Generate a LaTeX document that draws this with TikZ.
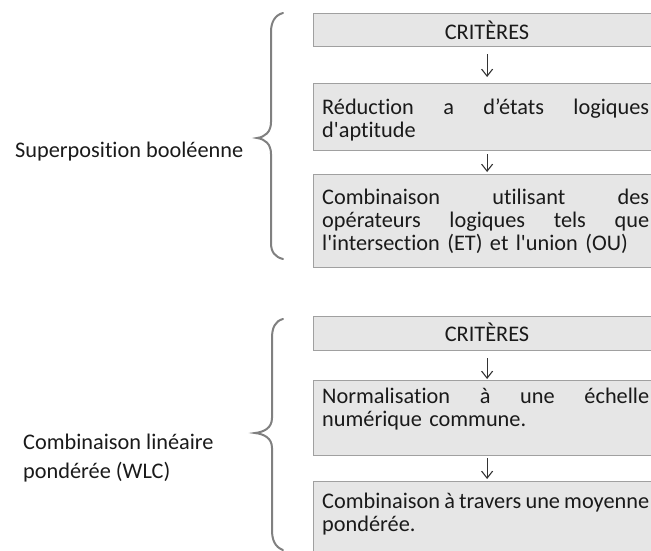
\documentclass[tikz,border=0pt]{standalone}
\usepackage{fontspec}
\setmainfont{Carlito}[Ligatures={NoCommon,TeXOff}]
\usetikzlibrary{arrows.meta}
\definecolor{boxfill}{HTML}{E6E6E6}
\definecolor{boxline}{HTML}{A0A0A0}
\definecolor{bracecol}{HTML}{808080}
\definecolor{txt}{HTML}{1A1A1A}
\definecolor{arrcol}{HTML}{333333}
\newlength\tw
\setlength\tw{327pt}
\newcommand\jl[1]{\makebox[\tw][s]{\spaceskip=0pt\xspaceskip=0pt\relax #1}}
\tikzset{
  box/.style={draw=boxline, fill=boxfill, line width=1.2pt, rectangle, anchor=north west, inner sep=0pt, minimum width=347pt},
  btext/.style={anchor=base west, inner sep=0pt, text width=\tw, align=left, text=txt, font=\fontsize{22.3}{23}\selectfont},
  ctext/.style={anchor=base, inner sep=0pt, text=txt, font=\fontsize{22.3}{23}\selectfont},
  ltext/.style={anchor=base west, inner sep=0pt, align=left, text=txt, font=\fontsize{22.3}{29}\selectfont},
  flow/.style={draw=arrcol, line width=1.1pt, -{Straight Barb[length=7pt,width=11pt,line width=1.1pt]}},
  brace/.style={draw=bracecol, line width=2pt, line cap=round}
}
\begin{document}
\begin{tikzpicture}[x=1pt,y=-1pt]
\useasboundingbox (0,0) rectangle (651,550);
\clip (0,0) rectangle (651,550);
% top group
\node[box, minimum height=33pt] (b1) at (313,13) {};
\node[box, minimum height=67pt] (b2) at (313,83) {};
\node[box, minimum height=93pt] (b3) at (313,174) {};
\node[ctext] (t1) at (487,39) {CRITÈRES};
\node[btext] (t2) at (322,114) {\jl{Réduction a d’états logiques}\\d'aptitude};
\node[btext] (t3) at (322,204) {\jl{Combinaison utilisant des}\\\jl{opérateurs logiques tels que}\\l'intersection (ET) et l'union (OU)};
\draw[flow] ([yshift=-7pt]b1.south) -- ([yshift=6pt]b2.north);
\draw[flow] ([yshift=-3pt]b2.south) -- ([yshift=2pt]b3.north);
\draw[brace] (283,13) .. controls (275,15) and (271,22) .. (271,32) -- (271,122) .. controls (271,132) and (265,137) .. (257,138) .. controls (265,139) and (271,144) .. (271,154) -- (271,243) .. controls (271,252) and (275,257) .. (283,259);
\node[ltext] (l1) at (15,157) {Superposition booléenne};
% bottom group
\node[box, minimum height=34pt] (b4) at (313,316) {};
\node[box, minimum height=75pt] (b5) at (313,380) {};
\node[box, minimum height=90pt] (b6) at (313,481) {};
\node[ctext] (t4) at (487,341) {CRITÈRES};
\node[btext] (t5) at (322,403) {\jl{Normalisation à une échelle}\\numérique commune.};
\node[btext] (t6) at (322,508) {\jl{Combinaison à travers une moyenne}\\pondérée.};
\draw[flow] ([yshift=-7pt]b4.south) -- ([yshift=1pt]b5.north);
\draw[flow] ([yshift=-2pt]b5.south) -- ([yshift=2pt]b6.north);
\draw[brace] (283,319) .. controls (275,321) and (272,328) .. (272,338) -- (272,418) .. controls (272,428) and (264,432) .. (255,433) .. controls (264,434) and (272,438) .. (272,448) -- (272,530) .. controls (272,540) and (275,547) .. (283,550);
\node[ltext] (l2) at (23,478) {Combinaison linéaire\\pondérée (WLC)};
\end{tikzpicture}
\end{document}
